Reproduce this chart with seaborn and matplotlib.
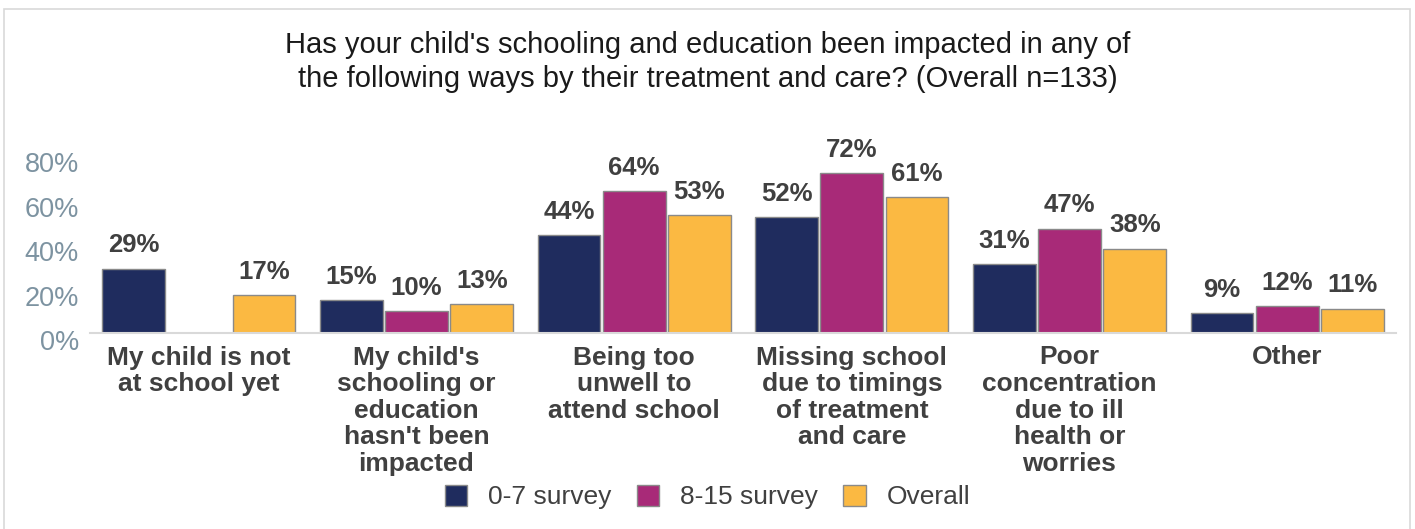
import numpy as np
import pandas as pd
import seaborn as sns
import matplotlib.pyplot as plt
from matplotlib.patches import Rectangle
from matplotlib.transforms import ScaledTranslation

# chart data (percent)
categories = ["My child is not\nat school yet",
              "My child's\nschooling or\neducation\nhasn't been\nimpacted",
              "Being too\nunwell to\nattend school",
              "Missing school\ndue to timings\nof treatment\nand care",
              "Poor\nconcentration\ndue to ill\nhealth or\nworries",
              "Other"]
series = ["0-7 survey", "8-15 survey", "Overall"]
vals_0_7 = [29, 15, 44, 52, 31, 9]
vals_8_15 = [np.nan, 10, 64, 72, 47, 12]
vals_overall = [17, 13, 53, 61, 38, 11]
colors = ["#1f2c5e", "#a82a78", "#fbb942"]

rows = []
for s, vals in zip(series, [vals_0_7, vals_8_15, vals_overall]):
    for c, v in zip(categories, vals):
        if not np.isnan(v):
            rows.append({"category": c, "series": s, "value": v})
df = pd.DataFrame(rows)

sns.set_style("white")
plt.rcParams["font.family"] = ["Liberation Sans", "DejaVu Sans"]

fig = plt.figure(figsize=(14.15, 5.29), dpi=100)
ax = fig.add_axes([90 / 1415, 196 / 529, 1306 / 1415, 0.357])

sns.barplot(data=df, x="category", y="value", hue="series", order=categories,
            hue_order=series, palette=colors, width=0.9, gap=0.04,
            edgecolor="#8a8a8a", linewidth=1, ax=ax, saturation=1)

for cont in ax.containers:
    ax.bar_label(cont, fmt="%.0f%%", padding=8, fontsize=18.5,
                 fontweight="bold", color="#404040")

ax.set_xlim(-0.5, 5.5)
ax.set_ylim(0, 85)
ax.set_yticks([0, 20, 40, 60, 80])
ax.set_yticklabels(["0%", "20%", "40%", "60%", "80%"])
ax.tick_params(axis="y", length=0, labelsize=19.5, labelcolor="#7d93a1", pad=8)
offset = ScaledTranslation(0, -7 / 100, fig.dpi_scale_trans)
for lab in ax.get_yticklabels():
    lab.set_transform(lab.get_transform() + offset)

ax.set_xticks(range(6))
ax.set_xticklabels(categories, fontsize=19, fontweight="bold", color="#404040",
                   linespacing=1.14)
ax.tick_params(axis="x", length=0, pad=9)
ax.set_xticks(np.arange(-0.5, 6, 1), minor=True)
ax.tick_params(axis="x", which="minor", direction="inout", length=20,
               color="#d9d9d9", width=1)
ax.set_xlabel("")
ax.set_ylabel("")
for side in ["top", "right", "left"]:
    ax.spines[side].set_visible(False)
ax.spines["bottom"].set_color("#d9d9d9")
ax.spines["bottom"].set_linewidth(1.5)

ax.legend(loc="center", bbox_to_anchor=(0.5, 1 - 497 / 529),
          bbox_transform=fig.transFigure, ncol=3, frameon=False, fontsize=19,
          handlelength=0.85, handleheight=0.85, columnspacing=0.95,
          handletextpad=0.8, labelcolor="#404040")

fig.text(0.5, 1 - 62 / 529,
         "Has your child's schooling and education been impacted in any of\n"
         "the following ways by their treatment and care? (Overall n=133)",
         ha="center", va="center", fontsize=21, color="#1a1a1a",
         linespacing=1.25)

fig.patches.append(Rectangle((4 / 1415, -0.05), 1406 / 1415, 1.05 - 9 / 529,
                             transform=fig.transFigure, fill=False,
                             edgecolor="#d9d9d9", linewidth=1.2))

fig.savefig("out.png", dpi=100)
